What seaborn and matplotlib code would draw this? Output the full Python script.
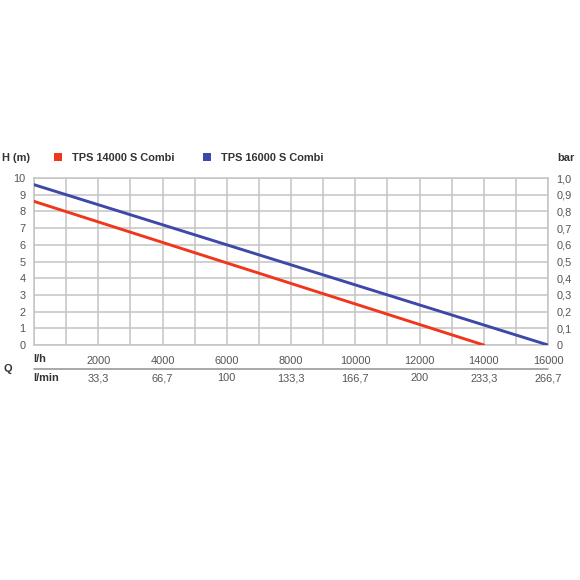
import numpy as np
import pandas as pd
import seaborn as sns
import matplotlib.pyplot as plt
from matplotlib.patches import Patch

# data
flow_lh = [0, 14000, 0, 16000]
head_m = [8.6, 0.0, 9.6, 0.0]
model = ["TPS 14000 S Combi", "TPS 14000 S Combi",
         "TPS 16000 S Combi", "TPS 16000 S Combi"]
models = ["TPS 14000 S Combi", "TPS 16000 S Combi"]
colors = ["#f0361c", "#3d48a8"]
xticks_lh = [2000, 4000, 6000, 8000, 10000, 12000, 14000, 16000]
xlabels_lmin = ["33,3", "66,7", "100", "133,3", "166,7", "200", "233,3", "266,7"]
yticks_m = list(range(0, 11))
ylabels_bar = ["0", "0,1", "0,2", "0,3", "0,4", "0,5", "0,6", "0,7", "0,8", "0,9", "1,0"]

df = pd.DataFrame({"Q": flow_lh, "H": head_m, "model": model})

sns.set_style("white")
plt.rcParams["font.family"] = ["Liberation Sans", "DejaVu Sans"]
fs = 7.9
plt.rcParams["font.size"] = fs

tick_col = "#555555"
grid_col = "#c4c4c4"
dark = "#333333"

fig = plt.figure(figsize=(5.8, 5.8), dpi=100)
ax = fig.add_axes([34 / 580, 1 - 345 / 580, 514 / 580, 167 / 580])

sns.lineplot(data=df, x="Q", y="H", hue="model", hue_order=models,
             palette=colors, linewidth=2.1, legend=False, ax=ax, zorder=3)

ax.set_xlim(0, 16000)
ax.set_ylim(0, 10)
ax.set_xticks(np.arange(0, 16001, 1000))
ax.set_yticks(yticks_m)
ax.grid(True, color=grid_col, linewidth=1.1)
for s in ax.spines.values():
    s.set_color(grid_col)
    s.set_linewidth(1.1)

# tick labels: only every 2000 on x
ax.set_xticklabels([str(v) if v in xticks_lh else "" for v in range(0, 16001, 1000)])
ax.tick_params(axis="x", length=0, pad=8, labelcolor=tick_col, labelsize=fs)
ax.tick_params(axis="y", length=0, pad=6, labelcolor=tick_col, labelsize=fs)
ax.set_xlabel("")
ax.set_ylabel("")

ax2 = ax.twinx()
ax2.set_ylim(0, 10)
ax2.set_yticks(yticks_m)
ax2.set_yticklabels(ylabels_bar)
ax2.tick_params(axis="y", length=0, pad=6, labelcolor=tick_col, labelsize=fs)
for s in ax2.spines.values():
    s.set_visible(False)

# l/min row
for x, lab in zip(xticks_lh, xlabels_lmin):
    ax.text(x, -0.2, lab, transform=ax.get_xaxis_transform(),
            ha="center", va="center", color=tick_col, fontsize=fs)

ax.text(-0.002, -0.084, "l/h", transform=ax.transAxes, ha="left", va="center",
        color=dark, fontsize=fs, fontweight="bold")
ax.text(-0.002, -0.2, "l/min", transform=ax.transAxes, ha="left", va="center",
        color=dark, fontsize=fs, fontweight="bold")
ax.text(-0.05, -0.144, "Q", transform=ax.transAxes, ha="center", va="center",
        color=dark, fontsize=fs, fontweight="bold")
ax.plot([0, 1], [-0.144, -0.144], transform=ax.transAxes, color="#999999",
        linewidth=1.2, clip_on=False)

fig.text(2 / 580, 1 - 158 / 580, "H (m)", ha="left", va="center",
         color=dark, fontsize=fs, fontweight="bold")
fig.text(575 / 580, 1 - 158 / 580, "bar", ha="right", va="center",
         color=dark, fontsize=fs, fontweight="bold")

handles = [Patch(facecolor=c, edgecolor="none") for c in colors]
fig.legend(handles, models, loc="center left", bbox_to_anchor=(44 / 580, 1 - 158 / 580),
           ncol=2, frameon=False, handlelength=0.75, handleheight=0.75,
           handletextpad=0.9, columnspacing=2.6,
           prop={"weight": "bold", "size": fs}, labelcolor=dark)

fig.savefig("out.png", dpi=100)
plt.close(fig)
